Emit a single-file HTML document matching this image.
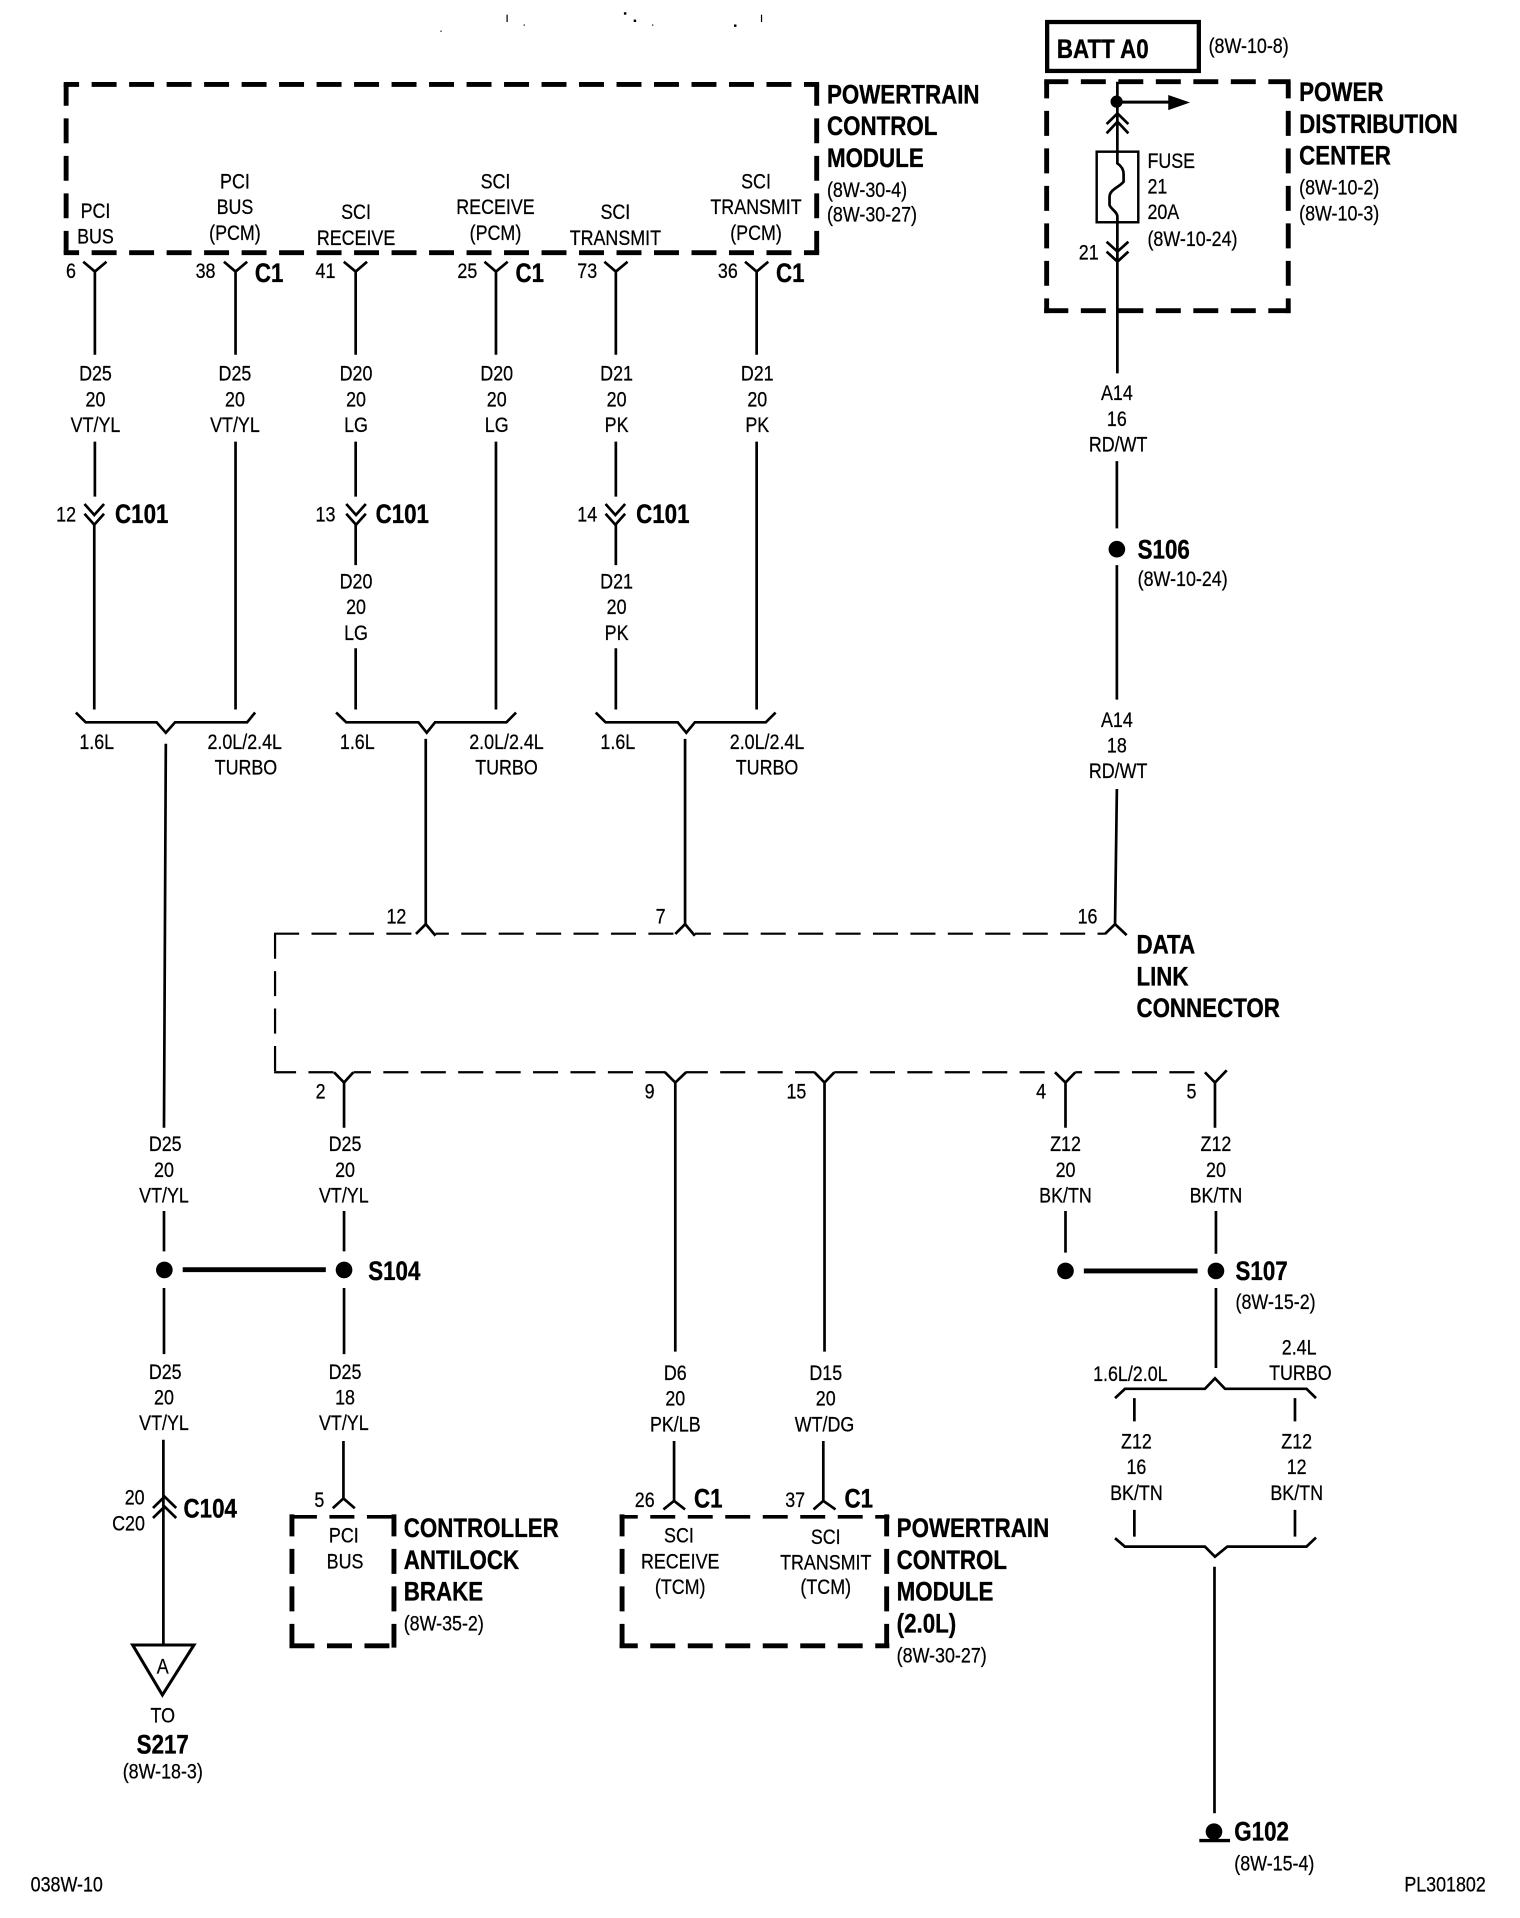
<!DOCTYPE html>
<html><head><meta charset="utf-8"><style>
html,body{margin:0;padding:0;background:#fff}
svg{display:block}
text{fill:#000;font-family:"Liberation Sans",sans-serif;dominant-baseline:central;transform-box:fill-box;stroke:#000}
.n,.l{font-size:17px;transform:scaleX(.86);stroke-width:.2}
.n{text-anchor:middle;transform-origin:center}
.l{text-anchor:start;transform-origin:left center}
.b,.bc{font-size:22px;font-weight:bold;transform:scaleX(.83);stroke-width:.3}
.b{text-anchor:start;transform-origin:left center}
.bc{text-anchor:middle;transform-origin:center}
.w{fill:none;stroke:#000;stroke-width:2.2}
.d{fill:none;stroke:#000;stroke-width:4;stroke-dasharray:20.4 10.25}
.t{fill:none;stroke:#000;stroke-width:1.8;stroke-dasharray:20.5 10.1}
.e{fill:none;stroke:#fff;stroke-width:4}
</style></head><body>
<svg width="1520" height="1918" viewBox="0 0 1242.5 1568" xmlns="http://www.w3.org/2000/svg">
<!-- PCM box -->
<path class="d" stroke-dashoffset="7.8" d="M52 69H669.600"/>
<path class="d" stroke-dashoffset="7.8" d="M52 206.600H669.600"/>
<path class="d" stroke-dashoffset="2.900" d="M54 69V207"/>
<path class="d" stroke-dashoffset="2.900" d="M667.600 69V207"/>
<!-- PDC box -->
<path class="d" stroke-dashoffset="0.700" d="M853.600 66.800H1055"/>
<path class="d" stroke-dashoffset="0.700" d="M853.600 254H1055"/>
<path class="d" stroke-dashoffset="6.800" d="M855.600 66.800V256"/>
<path class="d" stroke-dashoffset="6.800" d="M1053.100 66.800V256"/>
<rect x="856" y="18" width="124" height="40" fill="none" stroke="#000" stroke-width="3.5"/>
<!-- ABS box -->
<path class="d" style="stroke-width:3" d="M238.600 1240H324"/>
<path class="d" d="M236.600 1345.500H324"/>
<path class="d" stroke-dashoffset="2.400" d="M238.600 1238V1347"/>
<path class="d" stroke-dashoffset="2.400" d="M322 1238V1347"/>
<!-- TCM box -->
<path class="d" style="stroke-width:3" stroke-dashoffset="5.600" d="M506.500 1240H727"/>
<path class="d" stroke-dashoffset="5.600" d="M506.500 1345.500H727"/>
<path class="d" stroke-dashoffset="2.400" d="M508.500 1238V1347"/>
<path class="d" stroke-dashoffset="2.400" d="M724.800 1238V1347"/>
<!-- DLC -->
<path class="t" d="M224 763.300H903.500"/>
<path class="t" d="M224.800 763.300V877"/>
<path class="t" stroke-dashoffset="2.500" d="M224 876.600H985"/>
<path class="e" d="M340 763.300H356M552 763.300H568M273 876.600H289M544 876.600H560.500M666 876.600H682M863 876.600H879"/>
<!-- top forks and wires -->
<path class="w" d="M68 214L77.500 222L87 214M77.500 222V290M77.500 361V406M77 428V580
M183 214L192.500 222L202 214M192.500 222V290M192.500 361V580
M281 214L290.700 222L300 214M290.700 222V290M290.700 361V406M290.700 428V462M290.700 530V580
M396 214L405.400 222L415 214M405.400 222V290M405.400 361V580
M494 214L503.400 222L513 214M503.400 222V290M503.400 361V406M503.400 428V462M503.400 530V580
M609 214L618.500 222L628 214M618.500 222V290M618.500 361V580"/>
<!-- C101 chevrons -->
<path class="w" d="M69 412L77 421L85 412M69 420L77 429L85 420M283 412L291 421L299 412M283 420L291 429L299 420M495 412L503 421L511 412M495 420L503 429L511 420"/>
<!-- braces -->
<path class="w" d="M62 582.500L70 590.500H128L135.500 599L143 590.500H202L208.500 582.500M135.500 608L134 922
M274.700 582.500L283 590.500H342L348.800 599L355.600 590.500H414L421.800 582.500M348 604V756
M487 582.500L495 590.500H554L561 599L568 590.500H626L634 582.500M560 604V756"/>
<!-- DLC forks -->
<path class="w" d="M340 763.500L348 755.500L356 765M552 763.500L560 755.500L568 765M903.300 763.500L911.500 755.500L921 764.500M913 645L911.500 755.500M913 377V432M913 462V572"/>
<path class="w" d="M273 876.600L281.200 885L288.800 876.600M281.200 885V922M543.600 876.600L552 885L560.800 876.600M552 885V1105M665.800 876.600L674 885L682 876.600M674 885V1105M862.400 876.600L871 885L879 876.600M871 885V922M985 876.600L993.200 885L1002.800 875M993.200 885V922"/>
<!-- splices -->
<path class="w" d="M134 990V1023M134 1053V1107M281.200 990V1023M281.200 1053V1107M871 990V1024M994 990V1025M994 1053V1118.400"/>
<path fill="none" stroke="#000" stroke-width="4" d="M149.300 1038H266.300M886 1039H979"/>
<circle cx="134.300" cy="1038.200" r="6.800"/><circle cx="281.200" cy="1038.200" r="6.800"/><circle cx="871" cy="1039" r="6.800"/><circle cx="994" cy="1039" r="6.800"/><circle cx="913" cy="449" r="6.800"/>
<!-- lower connectors -->
<path class="w" d="M133.500 1177V1344M125 1232.800L134.500 1223.500L144 1232.800M125 1241L134.500 1231.700L144 1241M280.700 1178V1225M272 1233L280.700 1225L290 1233M551 1178V1227M542.300 1234L551 1227L560 1234M673 1178V1227M665 1234L673 1227L683 1234"/>
<path fill="none" stroke="#000" stroke-width="2.500" d="M108.400 1344.800H158.500L132.700 1385.700Z"/>
<!-- ground brace -->
<path class="w" d="M911.500 1143L919.600 1135.400H985L993.200 1126.800L1001.400 1135.400H1068L1075.800 1143M927.300 1143V1162M1058.600 1143V1162M927.300 1234.400V1256.200M1058.600 1234.400V1256.200
M911.500 1257.500L919.600 1264.400H985L993.200 1272.600L1003.300 1264.400H1068L1075.800 1257M992.800 1280.800V1482.400"/>
<circle cx="992.400" cy="1497.400" r="6.800"/>
<path fill="none" stroke="#000" stroke-width="2.700" d="M980.400 1504.700H1005.500"/>
<!-- PDC internals -->
<rect x="896.500" y="124" width="34" height="57.700" fill="#fff" stroke="#000" stroke-width="2"/>
<path class="w" d="M913.400 66.800V133.500C917 136 918.500 139 918.500 142V148.500C915 153 907 155 907 161V167.600C908 171 913.400 173 913.400 177V305.200M904.600 101.400L913.500 92.700L922.400 101.400M904.600 109L913.500 99.500L922.400 109M904.600 197.600L913.500 205.700L922.400 197.600M904.600 205.700L913.500 213.900L922.400 205.700"/>
<circle cx="912.800" cy="83.100" r="5"/>
<path fill="none" stroke="#000" stroke-width="2.500" d="M912 83.500H956"/>
<path d="M955 77.700L972.800 83.800L955 90Z"/>
<g transform="translate(0,.9)">
<!-- PCM text -->
<text class="n" x="78" y="172">PCI</text><text class="n" x="78" y="193">BUS</text>
<text class="n" x="192" y="148">PCI</text><text class="n" x="192" y="169">BUS</text><text class="n" x="192" y="190">(PCM)</text>
<text class="n" x="291" y="173">SCI</text><text class="n" x="291" y="194">RECEIVE</text>
<text class="n" x="405" y="148">SCI</text><text class="n" x="405" y="169">RECEIVE</text><text class="n" x="405" y="190">(PCM)</text>
<text class="n" x="503" y="173">SCI</text><text class="n" x="503" y="194">TRANSMIT</text>
<text class="n" x="618" y="148">SCI</text><text class="n" x="618" y="169">TRANSMIT</text><text class="n" x="618" y="190">(PCM)</text>
<text class="b" x="676" y="77">POWERTRAIN</text><text class="b" x="676" y="103">CONTROL</text><text class="b" x="676" y="129">MODULE</text>
<text class="l" x="676" y="155">(8W-30-4)</text><text class="l" x="676" y="175">(8W-30-27)</text>
<text class="n" x="58" y="221">6</text><text class="n" x="168" y="221">38</text><text class="bc" x="220" y="223">C1</text>
<text class="n" x="266" y="221">41</text><text class="n" x="382" y="221">25</text><text class="bc" x="433" y="223">C1</text>
<text class="n" x="480" y="221">73</text><text class="n" x="595" y="221">36</text><text class="bc" x="646" y="223">C1</text>
<!-- wire labels top -->
<text class="n" x="78" y="305">D25</text><text class="n" x="78" y="326">20</text><text class="n" x="78" y="347">VT/YL</text>
<text class="n" x="192" y="305">D25</text><text class="n" x="192" y="326">20</text><text class="n" x="192" y="347">VT/YL</text>
<text class="n" x="291" y="305">D20</text><text class="n" x="291" y="326">20</text><text class="n" x="291" y="347">LG</text>
<text class="n" x="406" y="305">D20</text><text class="n" x="406" y="326">20</text><text class="n" x="406" y="347">LG</text>
<text class="n" x="504" y="305">D21</text><text class="n" x="504" y="326">20</text><text class="n" x="504" y="347">PK</text>
<text class="n" x="619" y="305">D21</text><text class="n" x="619" y="326">20</text><text class="n" x="619" y="347">PK</text>
<text class="n" x="54" y="420">12</text><text class="b" x="94" y="420">C101</text>
<text class="n" x="266" y="420">13</text><text class="b" x="307" y="420">C101</text>
<text class="n" x="480" y="420">14</text><text class="b" x="520" y="420">C101</text>
<text class="n" x="291" y="475">D20</text><text class="n" x="291" y="496">20</text><text class="n" x="291" y="517">LG</text>
<text class="n" x="504" y="475">D21</text><text class="n" x="504" y="496">20</text><text class="n" x="504" y="517">PK</text>
<text class="n" x="79" y="606">1.6L</text><text class="n" x="200" y="606">2.0L/2.4L</text><text class="n" x="201" y="627">TURBO</text>
<text class="n" x="292" y="606">1.6L</text><text class="n" x="414" y="606">2.0L/2.4L</text><text class="n" x="414" y="627">TURBO</text>
<text class="n" x="505" y="606">1.6L</text><text class="n" x="627" y="606">2.0L/2.4L</text><text class="n" x="627" y="627">TURBO</text>
<!-- PDC text -->
<text class="b" x="864" y="40">BATT A0</text><text class="l" x="988" y="37">(8W-10-8)</text>
<text class="b" x="1062" y="75">POWER</text><text class="b" x="1062" y="101">DISTRIBUTION</text><text class="b" x="1062" y="127">CENTER</text>
<text class="l" x="1062" y="153">(8W-10-2)</text><text class="l" x="1062" y="174">(8W-10-3)</text>
<text class="l" x="938" y="131">FUSE</text><text class="l" x="938" y="152">21</text><text class="l" x="938" y="173">20A</text><text class="l" x="938" y="195">(8W-10-24)</text>
<text class="n" x="890" y="206">21</text>
<text class="n" x="913" y="321">A14</text><text class="n" x="913" y="342">16</text><text class="n" x="914" y="363">RD/WT</text>
<text class="b" x="930" y="449">S106</text><text class="l" x="930" y="473">(8W-10-24)</text>
<text class="n" x="913" y="588">A14</text><text class="n" x="913" y="609">18</text><text class="n" x="914" y="630">RD/WT</text>
<!-- DLC -->
<text class="n" x="324" y="749">12</text><text class="n" x="540" y="749">7</text><text class="n" x="889" y="749">16</text>
<text class="b" x="929" y="772">DATA</text><text class="b" x="929" y="798">LINK</text><text class="b" x="929" y="824">CONNECTOR</text>
<text class="n" x="262" y="892">2</text><text class="n" x="531" y="892">9</text><text class="n" x="651" y="892">15</text><text class="n" x="851" y="892">4</text><text class="n" x="974" y="892">5</text>
<text class="n" x="135" y="935">D25</text><text class="n" x="134" y="956">20</text><text class="n" x="134" y="977">VT/YL</text>
<text class="n" x="282" y="935">D25</text><text class="n" x="282" y="956">20</text><text class="n" x="281" y="977">VT/YL</text>
<text class="n" x="871" y="935">Z12</text><text class="n" x="871" y="956">20</text><text class="n" x="871" y="977">BK/TN</text>
<text class="n" x="994" y="935">Z12</text><text class="n" x="994" y="956">20</text><text class="n" x="994" y="977">BK/TN</text>
<text class="b" x="301" y="1039">S104</text>
<text class="b" x="1010" y="1039">S107</text><text class="l" x="1010" y="1064">(8W-15-2)</text>
<!-- lower labels -->
<text class="n" x="135" y="1121">D25</text><text class="n" x="134" y="1142">20</text><text class="n" x="134" y="1163">VT/YL</text>
<text class="n" x="282" y="1121">D25</text><text class="n" x="282" y="1142">18</text><text class="n" x="281" y="1163">VT/YL</text>
<text class="n" x="552" y="1122">D6</text><text class="n" x="552" y="1143">20</text><text class="n" x="552" y="1164">PK/LB</text>
<text class="n" x="675" y="1122">D15</text><text class="n" x="675" y="1143">20</text><text class="n" x="674" y="1164">WT/DG</text>
<text class="n" x="924" y="1123">1.6L/2.0L</text><text class="n" x="1062" y="1101">2.4L</text><text class="n" x="1063" y="1122">TURBO</text>
<text class="n" x="929" y="1178">Z12</text><text class="n" x="929" y="1199">16</text><text class="n" x="929" y="1220">BK/TN</text>
<text class="n" x="1060" y="1178">Z12</text><text class="n" x="1060" y="1199">12</text><text class="n" x="1060" y="1220">BK/TN</text>
<text class="n" x="110" y="1224">20</text><text class="n" x="105" y="1245">C20</text><text class="b" x="150" y="1233">C104</text>
<text class="n" x="133" y="1362">A</text><text class="n" x="133" y="1402">TO</text><text class="bc" x="133" y="1426">S217</text><text class="n" x="133" y="1448">(8W-18-3)</text>
<text class="n" x="261" y="1226">5</text>
<text class="n" x="281" y="1255">PCI</text><text class="n" x="282" y="1276">BUS</text>
<text class="b" x="330" y="1249">CONTROLLER</text><text class="b" x="330" y="1275">ANTILOCK</text><text class="b" x="330" y="1301">BRAKE</text><text class="l" x="330" y="1327">(8W-35-2)</text>
<text class="n" x="527" y="1226">26</text><text class="bc" x="579" y="1225">C1</text><text class="n" x="650" y="1226">37</text><text class="bc" x="702" y="1225">C1</text>
<text class="n" x="555" y="1255">SCI</text><text class="n" x="556" y="1276">RECEIVE</text><text class="n" x="556" y="1297">(TCM)</text>
<text class="n" x="675" y="1256">SCI</text><text class="n" x="675" y="1277">TRANSMIT</text><text class="n" x="675" y="1297">(TCM)</text>
<text class="b" x="733" y="1249">POWERTRAIN</text><text class="b" x="733" y="1275">CONTROL</text><text class="b" x="733" y="1301">MODULE</text><text class="b" x="733" y="1327">(2.0L)</text><text class="l" x="733" y="1353">(8W-30-27)</text>
<text class="b" x="1009" y="1497">G102</text><text class="l" x="1009" y="1523">(8W-15-4)</text>
<text class="l" x="25" y="1540">038W-10</text><text class="l" x="1148" y="1540">PL301802</text>
</g>
<!-- scan specks -->
<g><rect x="414" y="12" width="1" height="6"/><rect x="428" y="20" width="1" height="1"/><rect x="510" y="10" width="2" height="2"/><rect x="518" y="16" width="2" height="2"/><rect x="533" y="20" width="1" height="1"/><rect x="600" y="20" width="2" height="2"/><rect x="622" y="12" width="1" height="6"/><rect x="360" y="25" width="1" height="1"/></g>
</svg>
</body></html>
